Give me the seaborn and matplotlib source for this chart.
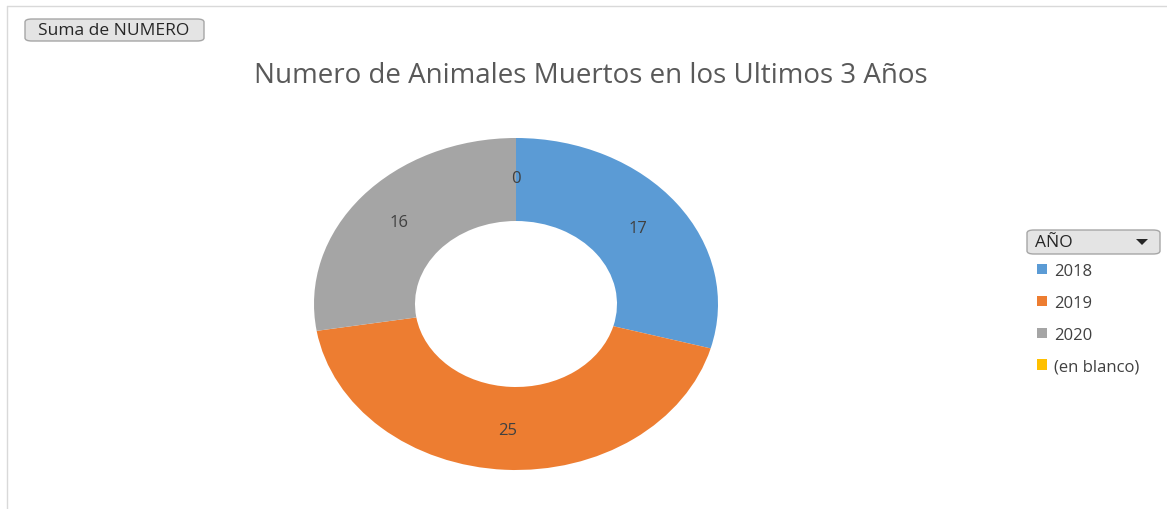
import matplotlib
matplotlib.use("Agg")
import matplotlib.pyplot as plt
import seaborn as sns
from matplotlib.patches import FancyBboxPatch, Polygon
from matplotlib.lines import Line2D

# data
years = ["2018", "2019", "2020", "(en blanco)"]
deaths = [17, 25, 16, 0]
colors = ["#5B9BD5", "#ED7D31", "#A5A5A5", "#FFC000"]
title = "Numero de Animales Muertos en los Ultimos 3 Años"

sns.set_theme(style="white")
plt.rcParams["font.family"] = ["Open Sans", "DejaVu Sans"]

W, H = 1167, 510
fig = plt.figure(figsize=(W / 100, H / 100), dpi=100)
fig.patch.set_facecolor("white")


def fx(px):
    return px / W


def fy(py):
    return 1 - py / H


# light chart border (top and left edges visible)
fig.add_artist(Line2D([fx(7), 1], [fy(7), fy(7)], color="#D9D9D9", lw=1))
fig.add_artist(Line2D([fx(7), fx(7)], [fy(7), 0], color="#D9D9D9", lw=1))

# donut, stretched into an ellipse like the original
ax = fig.add_axes([fx(314), fy(471), fx(718) - fx(314), fy(139) - fy(471)])
total = sum(deaths)
wedges, texts, autotexts = ax.pie(
    deaths,
    colors=colors,
    startangle=90,
    counterclock=False,
    radius=1,
    wedgeprops=dict(width=0.5, linewidth=0),
    autopct=lambda p: f"{round(p * total / 100):.0f}",
    pctdistance=0.76,
    textprops=dict(color="#404040", fontsize=12),
)
ax.set_aspect("auto")
ax.set_xlim(-1, 1)
ax.set_ylim(-1, 1)
ax.axis("off")

fig.text(fx(591), fy(76), title, ha="center", va="center",
         fontsize=20, color="#595959")

# "Suma de NUMERO" field button
btn = FancyBboxPatch((fx(25), fy(42)), fx(204) - fx(25), fy(20) - fy(42),
                     boxstyle="round,pad=0,rounding_size=0.006",
                     transform=fig.transFigure, facecolor="#E4E4E4",
                     edgecolor="#A6A6A6", lw=1)
fig.add_artist(btn)
fig.text(fx(114), fy(31), "Suma de NUMERO", ha="center", va="center",
         fontsize=12.5, color="#262626")

# "AÑO" filter button
btn2 = FancyBboxPatch((fx(1027), fy(255)), fx(1160) - fx(1027), fy(231) - fy(255),
                      boxstyle="round,pad=0,rounding_size=0.006",
                      transform=fig.transFigure, facecolor="#E4E4E4",
                      edgecolor="#A6A6A6", lw=1)
fig.add_artist(btn2)
fig.text(fx(1035), fy(243), "AÑO", ha="left", va="center",
         fontsize=12.5, color="#262626")
fig.add_artist(Polygon([[fx(1136), fy(240)], [fx(1148), fy(240)], [fx(1142), fy(246)]],
                       closed=True, transform=fig.transFigure,
                       facecolor="#262626", edgecolor="none"))

fig.legend(wedges, years, loc="upper left",
           bbox_to_anchor=(fx(1037), fy(264)), frameon=False,
           fontsize=12, labelcolor="#404040",
           handlelength=0.6, handleheight=0.6, handletextpad=0.45,
           labelspacing=0.95, borderaxespad=0, borderpad=0)

fig.savefig("out.png", dpi=100)
